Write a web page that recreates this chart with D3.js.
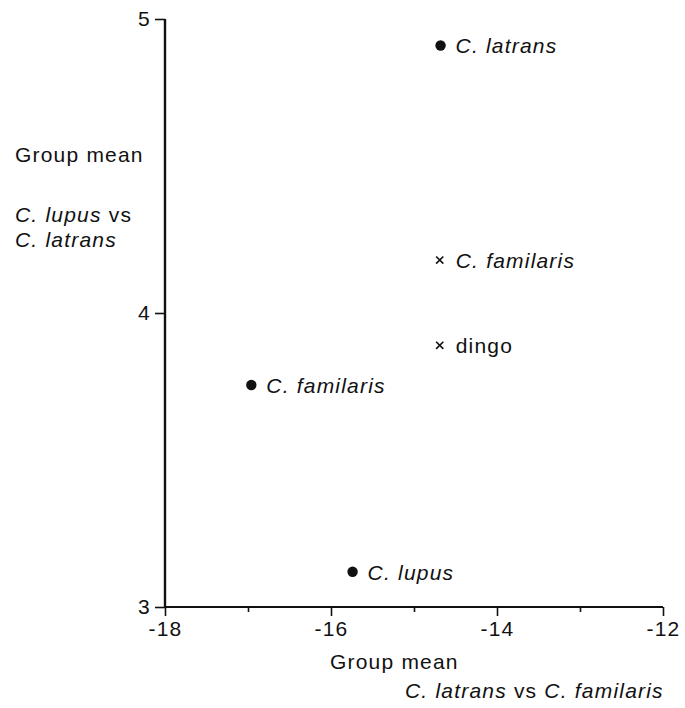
<!DOCTYPE html>
<html>
<head>
<meta charset="utf-8">
<script src="https://cdn.jsdelivr.net/npm/d3@7"></script>
<style>
  html, body { margin: 0; padding: 0; background: #fff; }
  svg { display: block; }
  text { font-family: "Liberation Sans", Arial, Helvetica, sans-serif; fill: #111; letter-spacing: 1.2px; }
</style>
</head>
<body>
<svg id="chart" width="685" height="708"></svg>
<script>
// Group means on the two discriminant axes
const groups  = ["C. latrans", "C. familaris", "dingo", "C. familaris", "C. lupus"];
const xValues = [-14.68, -14.69, -14.69, -16.96, -15.74];
const yValues = [4.91, 4.18, 3.89, 3.755, 3.12];
const markers = ["dot", "cross", "cross", "dot", "dot"];
const italics = [true, true, false, true, true];

const xTicks = [-18, -16, -14, -12];
const xMinorTicks = [-17, -15, -13];
const yTicks = [3, 4, 5];

const points = groups.map((g, i) => ({
  name: g, x: xValues[i], y: yValues[i], marker: markers[i], italic: italics[i]
}));

const svg = d3.select("#chart");
const x = d3.scaleLinear().domain([-18, -12]).range([165, 663]);
const y = d3.scaleLinear().domain([3, 5]).range([607, 19]);

const fontSize = 21;
const fontFamily = "'Liberation Sans', Arial, sans-serif";

// x axis
const xAxis = svg.append("g").attr("transform", `translate(0,${y(3)})`)
  .call(d3.axisBottom(x).tickValues(xTicks).tickSize(9).tickPadding(5)
    .tickFormat(d => String(d)));
xAxis.select(".domain").attr("stroke", "#111").attr("stroke-width", 2).attr("d", `M${x(-18)},0H${x(-12)}`);
xAxis.selectAll(".tick line").attr("stroke", "#111").attr("stroke-width", 1.6);
xAxis.selectAll(".tick text").attr("font-size", fontSize).attr("fill", "#111")
  .attr("font-family", fontFamily);
const xMinor = svg.append("g").attr("transform", `translate(0,${y(3)})`)
  .call(d3.axisBottom(x).tickValues(xMinorTicks).tickSize(5).tickFormat(""));
xMinor.select(".domain").remove();
xMinor.selectAll(".tick line").attr("stroke", "#111").attr("stroke-width", 1.6);

// y axis
const yAxis = svg.append("g").attr("transform", `translate(${x(-18)},0)`)
  .call(d3.axisLeft(y).tickValues(yTicks).tickSize(10).tickPadding(4).tickFormat(d3.format("d")));
yAxis.select(".domain").attr("stroke", "#111").attr("stroke-width", 2.4).attr("d", `M0,${y(5)}V${y(3)}`);
yAxis.selectAll(".tick line").attr("stroke", "#111").attr("stroke-width", 1.6);
yAxis.selectAll(".tick text").attr("font-size", fontSize).attr("fill", "#111")
  .attr("font-family", fontFamily);

// axis titles
const yTitle = svg.append("text").attr("font-size", fontSize);
yTitle.append("tspan").attr("x", 15).attr("y", 162).text("Group mean");
const yt2 = yTitle.append("tspan").attr("x", 15).attr("y", 222);
yt2.append("tspan").attr("font-style", "italic").text("C. lupus");
yt2.append("tspan").text(" vs");
yTitle.append("tspan").attr("x", 15).attr("y", 247).attr("font-style", "italic").text("C. latrans");

const xTitle = svg.append("text").attr("font-size", fontSize);
xTitle.append("tspan").attr("x", 330).attr("y", 669).text("Group mean");
const xt2 = xTitle.append("tspan").attr("x", 405).attr("y", 698);
xt2.append("tspan").attr("font-style", "italic").text("C. latrans");
xt2.append("tspan").text(" vs ");
xt2.append("tspan").attr("font-style", "italic").text("C. familaris");

// markers
const pts = svg.append("g");
pts.selectAll("circle").data(points.filter(d => d.marker === "dot")).join("circle")
  .attr("cx", d => x(d.x)).attr("cy", d => y(d.y)).attr("r", 5.2).attr("fill", "#111");
const s = 3.6;
pts.selectAll("path.cross").data(points.filter(d => d.marker === "cross")).join("path")
  .attr("class", "cross")
  .attr("d", d => {
    const cx = x(d.x), cy = y(d.y);
    return `M${cx - s},${cy - s}L${cx + s},${cy + s}M${cx - s},${cy + s}L${cx + s},${cy - s}`;
  })
  .attr("stroke", "#111").attr("stroke-width", 1.6).attr("fill", "none");

// point labels
pts.selectAll("text").data(points).join("text")
  .attr("x", d => x(d.x) + (d.marker === "dot" ? 15 : 16))
  .attr("y", d => y(d.y) + 8)
  .attr("font-size", fontSize)
  .attr("font-style", d => d.italic ? "italic" : "normal")
  .text(d => d.name);
</script>
</body>
</html>
